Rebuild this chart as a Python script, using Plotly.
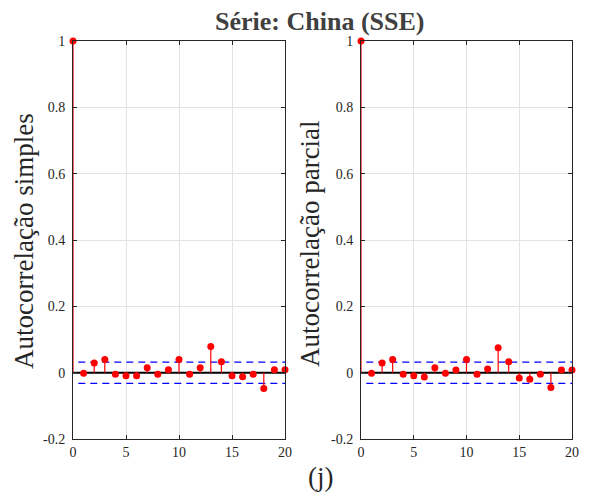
import plotly.graph_objects as go

lags = list(range(0, 21))
acf_vals = [1.0, -0.002, 0.029, 0.040, -0.005, -0.009, -0.009, 0.015, -0.005, 0.009, 0.040,
            -0.005, 0.015, 0.079, 0.033, -0.009, -0.012, -0.005, -0.048, 0.009, 0.009]
pacf_vals = [1.0, -0.002, 0.029, 0.040, -0.005, -0.009, -0.013, 0.015, -0.002, 0.008, 0.040,
             -0.005, 0.011, 0.075, 0.033, -0.016, -0.020, -0.005, -0.045, 0.008, 0.008]
conf_bound = 0.032
y_ticks = [-0.2, 0, 0.2, 0.4, 0.6, 0.8, 1]
y_tick_text = ["-0.2", "0", "0.2", "0.4", "0.6", "0.8", "1"]
x_ticks = [0, 5, 10, 15, 20]

OFF = 8  # page body margin offset
W, H = 591 - OFF, 497 - OFF
ML, MR, MT, MB = 73 - OFF, 19, 41 - OFF, 58
PW, PH = W - ML - MR, H - MT - MB
fig = go.Figure()

FONT = "Liberation Serif"
RED = "#ff0000"

def add_panel(vals, xa, ya):
    sx, sy = [], []
    for l, v in zip(lags, vals):
        sx += [l, l, None]
        sy += [0, v, None]
    fig.add_trace(go.Scatter(x=[0, 20], y=[0, 0], mode="lines",
                             line=dict(color="#000000", width=2), xaxis=xa, yaxis=ya,
                             showlegend=False, hoverinfo="skip"))
    for b in (conf_bound, -conf_bound):
        fig.add_trace(go.Scatter(x=[0.5, 20], y=[b, b], mode="lines",
                                 line=dict(color="#0000ff", width=1.2, dash="7px,5px"),
                                 xaxis=xa, yaxis=ya, showlegend=False, hoverinfo="skip"))
    fig.add_trace(go.Scatter(x=sx, y=sy, mode="lines", line=dict(color=RED, width=1.2),
                             xaxis=xa, yaxis=ya, showlegend=False, hoverinfo="skip"))
    fig.add_trace(go.Scatter(x=lags, y=vals, mode="markers",
                             marker=dict(color=RED, size=7), cliponaxis=False,
                             xaxis=xa, yaxis=ya, showlegend=False))

add_panel(acf_vals, "x", "y")
add_panel(pacf_vals, "x2", "y2")

def xd(a, b):
    return [(a - OFF - ML) / PW, (b - OFF - ML) / PW]

axis_common = dict(showline=True, mirror="ticks", linecolor="#262626", linewidth=1,
                   ticks="inside", ticklen=4, tickcolor="#262626", automargin=False,
                   showgrid=True, gridcolor="#e3e3e3", gridwidth=1, zeroline=False,
                   tickfont=dict(family=FONT, size=14, color="#262626"))

def ann(text, rx, ry, size, color, angle=0):
    # rx, ry are reference-picture pixels (centre of the text)
    return dict(text=text, x=(rx - OFF - ML) / PW, y=1 - (ry - OFF - MT) / PH,
                xref="paper", yref="paper", showarrow=False, textangle=angle,
                xanchor="center", yanchor="middle",
                font=dict(family=FONT, size=size, color=color))

fig.update_layout(
    width=W, height=H,
    margin=dict(l=ML, r=MR, t=MT, b=MB, autoexpand=False),
    paper_bgcolor="white", plot_bgcolor="white",
    xaxis=dict(domain=xd(73, 285), range=[0, 20], tickvals=x_ticks, anchor="y", **axis_common),
    yaxis=dict(domain=[0, 1], range=[-0.2, 1], tickvals=y_ticks, ticktext=y_tick_text, anchor="x",
               ticklabelstandoff=4, **axis_common),
    xaxis2=dict(domain=xd(361, 572), range=[0, 20], tickvals=x_ticks, anchor="y2", **axis_common),
    yaxis2=dict(domain=[0, 1], range=[-0.2, 1], tickvals=y_ticks, ticktext=y_tick_text, anchor="x2",
                ticklabelstandoff=4, **axis_common),
    annotations=[
        ann("<b>Série: China (SSE)</b>", 319.5, 21, 26, "#404040"),
        ann("Autocorrelação simples", 24, 241, 27, "#262626", -90),
        ann("Autocorrelação parcial", 310, 244, 27, "#262626", -90),
        ann("(j)", 320, 477, 27, "#262626"),
    ],
)

fig.write_html("out.html")
